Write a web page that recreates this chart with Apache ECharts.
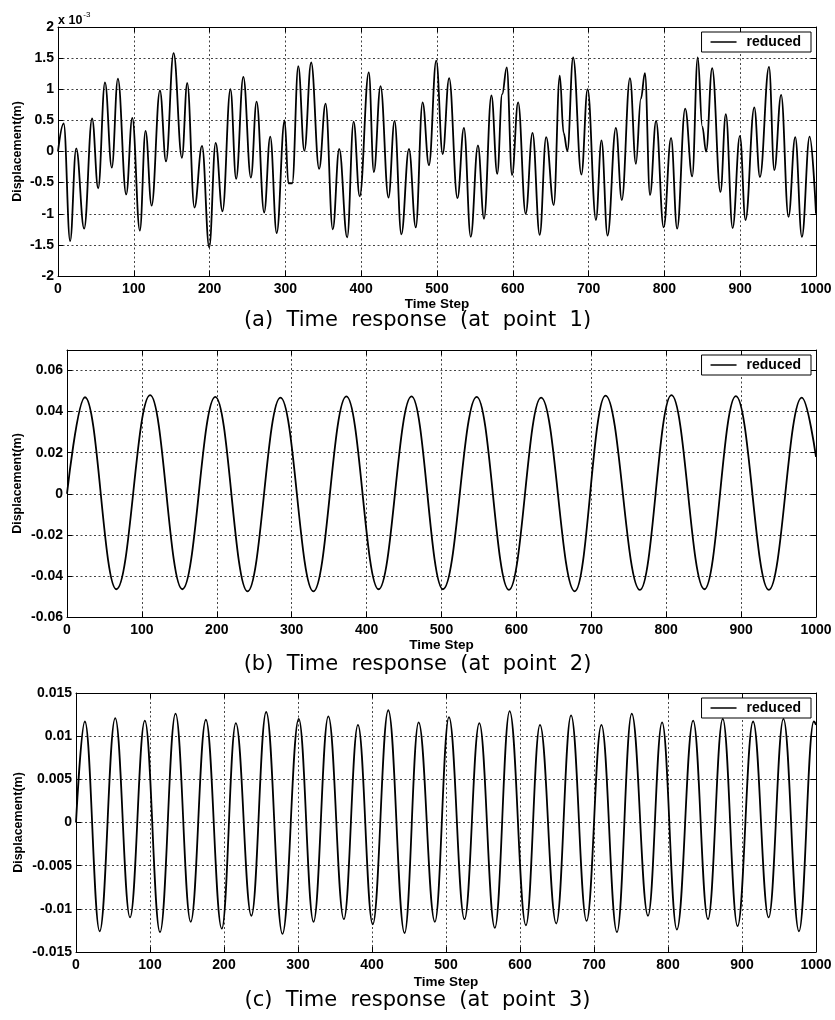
<!DOCTYPE html>
<html><head><meta charset="utf-8">
<script src="https://cdn.jsdelivr.net/npm/echarts@6/dist/echarts.min.js"></script>
<style>html,body{margin:0;padding:0;background:#fff}#c{width:835px;height:1020px}</style>
</head><body><div id="c"></div>
<script>
// Time step axis
const stepTicks = { min: 0, max: 1000, interval: 100 };
const seriesName = 'reduced';
const captions = ['(a)  Time  response  (at  point  1)', '(b)  Time  response  (at  point  2)', '(c)  Time  response  (at  point  3)'];
// y axis ranges (panel 1 is in units of 1e-3 m)
const yRanges = [
  { min: -2, max: 2, interval: 0.5, digits: 1 },
  { min: -0.06, max: 0.07, interval: 0.02, digits: 2 },
  { min: -0.015, max: 0.015, interval: 0.005, digits: 3 }
];
// Point 1 displacement (x 1e-3 m), read as [time step, value] at peaks/troughs
const point1 = [
  [0,0],[7.5,0.45],[16,-1.44],[24,0.05],[34.5,-1.24],[45,0.53],[53,-0.59],[62,1.11],[71,-0.26],[79,1.17],
  [90,-0.69],[98,0.54],[108,-1.27],[115.5,0.33],[123.5,-0.87],[134.5,0.98],[142.5,-0.16],[152.5,1.58],[163.5,-0.1],[170.5,1.1],
  [180,-0.9],[190,0.09],[199.5,-1.54],[208,0.14],[217,-0.96],[227.5,1.0],[235,-0.44],[244.5,1.2],[254.5,-0.42],[262,0.8],
  [272,-0.98],[280,0.24],[288.5,-1.31],[299,0.5],[304,-0.51],[309,-0.51],[317,1.37],[325,0.01],[334,1.43],[344.5,-0.28],
  [353,0.77],[362.5,-1.25],[371,0.04],[381.5,-1.38],[390,0.48],[398,-0.72],[410,1.27],[416.7,-0.33],[425.5,1.05],[436,-0.74],
  [444,0.49],[453,-1.33],[463,0.04],[472,-1.22],[481,0.79],[489.4,-0.22],[499,1.46],[507.5,-0.04],[516,1.18],[527,-0.75],
  [535.5,0.38],[544.5,-1.37],[554,0.1],[562,-1.08],[571.8,0.9],[579.5,-0.36],[586,0.92],[592,1.35],[599,-0.38],[607,0.79],
  [617,-1.0],[626,0.3],[635.5,-1.34],[644,0.23],[654,-0.86],[662,1.22],[667,0.3],[672,0.01],[679.6,1.51],[690.5,-0.37],
  [698.7,1.0],[709.7,-1.1],[717,0.18],[725,-1.35],[736,0.38],[743.8,-0.78],[754.6,1.18],[762.4,-0.2],[769,0.85],[774.3,1.26],
  [781,-0.7],[789,0.49],[799,-1.22],[808.8,0.22],[816.8,-1.24],[827.4,0.69],[836.7,-0.4],[844,1.51],[850,0.4],[855,0.0],
  [863,1.34],[874,-0.65],[881,0.6],[890,-1.23],[899.6,0.25],[907,-1.1],[918.6,0.71],[926,-0.41],[938,1.36],[945,-0.3],
  [954,0.91],[963.7,-1.05],[972.6,0.23],[981.4,-1.37],[991.6,0.24],[1000,-1.0]
];
// Point 2 displacement (m)
const point2 = [
  [0,0],[24,0.047],[66,-0.0465],[111,0.048],[154,-0.0465],[198,0.0472],[241,-0.0475],[285,0.0468],[329,-0.0475],[373,0.0474],
  [416,-0.0465],[460,0.0474],[502,-0.0465],[547,0.0472],[590,-0.0468],[633,0.0468],[678,-0.0475],[719,0.0478],[765,-0.0468],[807,0.048],
  [851,-0.0465],[893,0.0475],[937,-0.0468],[981,0.0468],[1000,0.018]
];
// Point 3 displacement (m)
const point3 = [
  [0,0],[12,0.0117],[32,-0.0126],[53,0.0121],[73,-0.011],[93,0.0118],[113.5,-0.0127],[134.5,0.0126],[155,-0.0115],[175.5,0.0119],
  [197,-0.0123],[216,0.0115],[237,-0.0108],[257,0.0128],[279,-0.0129],[301,0.012],[321,-0.0115],[341,0.0123],[362,-0.0112],[381,0.0113],
  [401,-0.0118],[422,0.013],[444,-0.0128],[463,0.0116],[485,-0.0115],[504,0.0122],[525,-0.0112],[545,0.0115],[566,-0.0122],[586,0.0129],
  [608,-0.0119],[627,0.0113],[649,-0.0117],[669,0.0124],[690,-0.0114],[710,0.0113],[731,-0.0127],[751,0.0126],[773,-0.0108],[792,0.0116],
  [812,-0.0124],[834,0.0118],[854,-0.0112],[874,0.012],[894,-0.012],[915,0.0117],[936,-0.011],[956,0.012],[977,-0.0126],[997,0.0117],
  [1000,0.0113]
];
const panels = [point1, point2, point3];

const W = 835;
const FONT = 'Liberation Sans, Arial, sans-serif';
const grids = [
  { left: 58, top: 27, width: 758, height: 249 },
  { left: 67, top: 350, width: 749, height: 267 },
  { left: 76, top: 693, width: 740, height: 259 }
];
const xNameGap = [17, 16, 23];
const yNameGap = [34, 43, 51];
const captionY = [323, 667, 1003];

const xAxes = [], yAxes = [], series = [], legends = [], graphics = [];
const axisLine = { show: true, onZero: false, lineStyle: { color: '#000', width: 1 } };
const tick = { show: true, inside: true, length: 5, lineStyle: { color: '#000', width: 1 } };
const split = { show: true, lineStyle: { color: '#444', type: [2, 2.5], width: 1 } };
const labelStyle = { color: '#000', fontSize: 14, fontWeight: 'bold', fontFamily: FONT };

grids.forEach((g, i) => {
  const yr = yRanges[i];
  xAxes.push({
    gridIndex: i, type: 'value', position: 'bottom', min: stepTicks.min, max: stepTicks.max, interval: stepTicks.interval,
    axisLine, axisTick: tick, splitLine: split,
    axisLabel: Object.assign({ margin: 6, formatter: v => String(v) }, labelStyle),
    name: 'Time Step', nameLocation: 'middle', nameGap: xNameGap[i],
    nameTextStyle: { color: '#000', fontSize: 13.5, fontWeight: 'bold', fontFamily: FONT }
  });
  xAxes.push({
    gridIndex: i, type: 'value', position: 'top', min: stepTicks.min, max: stepTicks.max, interval: stepTicks.interval,
    axisLine, axisTick: tick, splitLine: { show: false }, axisLabel: { show: false }
  });
  yAxes.push({
    gridIndex: i, type: 'value', position: 'left', min: yr.min, max: yr.max, interval: yr.interval,
    axisLine, axisTick: tick, splitLine: split,
    axisLabel: Object.assign({ margin: 4, showMaxLabel: i !== 1, formatter: v => String(+v.toFixed(yr.digits)) }, labelStyle),
    name: 'Displacement(m)', nameLocation: 'middle', nameGap: yNameGap[i], nameMoveOverlap: false,
    nameTextStyle: { color: '#000', fontSize: 12.5, fontWeight: 'bold', fontFamily: FONT }
  });
  yAxes.push({
    gridIndex: i, type: 'value', position: 'right', min: yr.min, max: yr.max, interval: yr.interval,
    axisLine, axisTick: tick, splitLine: { show: false }, axisLabel: { show: false }
  });
  series.push({
    type: 'line', name: seriesName, xAxisIndex: i * 2, yAxisIndex: i * 2,
    data: panels[i], showSymbol: false, symbol: 'none', smooth: 0.4, smoothMonotone: 'x',
    lineStyle: { color: '#000', width: 1.8 }, itemStyle: { color: '#000' }, animation: false
  });
  legends.push({
    data: [seriesName], right: W - (g.left + g.width) + 5, top: g.top + 5,
    icon: 'rect', itemWidth: 26, itemHeight: 1.5, selectedMode: false,
    backgroundColor: '#fff', borderColor: '#000', borderWidth: 1, borderRadius: 0,
    padding: [3, 10, 3, 9],
    textStyle: { color: '#000', fontSize: 14, fontWeight: 'bold', fontFamily: FONT, padding: [0, 0, 0, 5] }
  });
  graphics.push({
    type: 'text', left: 'center', top: captionY[i] - 13,
    style: { text: captions[i], fontSize: 21, fontFamily: 'DejaVu Sans, sans-serif', fill: '#000' }
  });
});
graphics.push({
  type: 'text', left: 58, top: 11,
  style: {
    text: '{a|x 10}{b|-3}', fill: '#000',
    rich: { a: { fontSize: 12.5, fontWeight: 'bold', fontFamily: FONT, verticalAlign: 'bottom' }, b: { fontSize: 8, fontFamily: FONT, verticalAlign: 'top', padding: [0, 0, 8, 1] } }
  }
});

const chart = echarts.init(document.getElementById('c'), null, { renderer: 'canvas' });
chart.setOption({
  animation: false,
  backgroundColor: '#fff',
  grid: grids.map(g => Object.assign({ show: false }, g)),
  xAxis: xAxes, yAxis: yAxes, series, legend: legends, graphic: graphics
});
</script></body></html>
